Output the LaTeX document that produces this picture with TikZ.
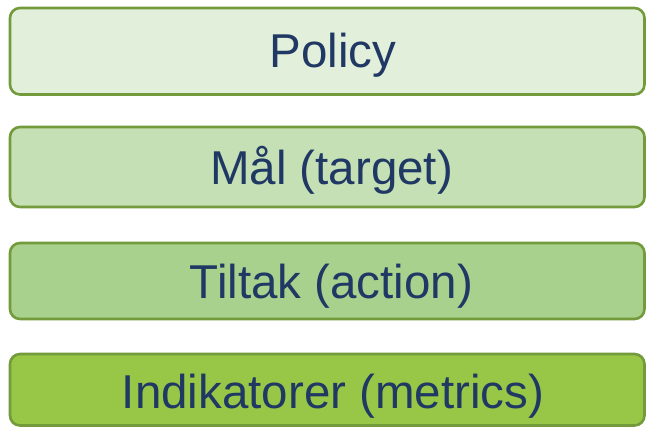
\documentclass[tikz,border=0pt]{standalone}
\usepackage{fontspec}
\setmainfont{Liberation Sans}
\definecolor{edge}{HTML}{739A3B}
\definecolor{fillA}{HTML}{E2EFDA}
\definecolor{fillB}{HTML}{C5E0B4}
\definecolor{fillC}{HTML}{A9D18E}
\definecolor{fillD}{HTML}{98C646}
\definecolor{txt}{HTML}{203864}
\begin{document}
\begin{tikzpicture}[x=1pt,y=-1pt,
  levelbox/.style={draw=edge,line width=2.6pt,rounded corners=10pt},
  leveltext/.style={text=txt,font=\fontsize{47.5}{50}\selectfont,inner sep=0pt,anchor=base}]
\useasboundingbox (0,0) rectangle (646,427);
\draw[levelbox,fill=fillA] (10,8) rectangle (644.5,94.5);
\draw[levelbox,fill=fillB] (10,127) rectangle (644.5,207);
\draw[levelbox,fill=fillC] (10,243) rectangle (644.5,319);
\draw[levelbox,fill=fillD] (10,354) rectangle (644.5,425.5);
\node[leveltext] (policy) at (333,68) {Policy};
\node[leveltext] (maal) at (331.5,185) {Mål (target)};
\node[leveltext] (tiltak) at (331.5,299) {Tiltak (action)};
\node[leveltext] (indik) at (333,409) {Indikatorer (metrics)};
\end{tikzpicture}
\end{document}
